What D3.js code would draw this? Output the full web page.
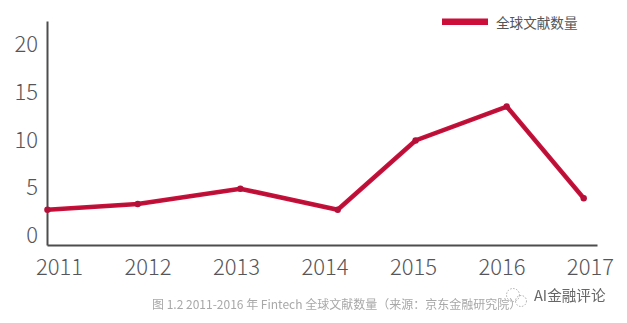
<!DOCTYPE html>
<html>
<head>
<meta charset="utf-8">
<style>
  html, body { margin: 0; background: #fff; }
  text { font-family: "Noto Sans CJK SC", "Noto Sans", sans-serif; }
  .tick text { font-size: 22px; font-weight: 300; fill: #55555a; }
</style>
<script src="https://cdn.jsdelivr.net/npm/d3@7"></script>
</head>
<body>
<div id="visualization"></div>
<script>
const categories = [2011, 2012, 2013, 2014, 2015, 2016, 2017];
// where the points really sit on the year axis, they are not centred on the labels
const pointYears = [2010.87, 2011.89, 2013.05, 2014.15, 2015.03, 2016.06, 2016.93];
const paperCounts = [2.7, 3.3, 4.9, 2.7, 9.95, 13.5, 3.9];
const yTicks = [0, 5, 10, 15, 20];
const seriesName = '全球文献数量';
const caption = '图 1.2 2011-2016 年 Fintech 全球文献数量（来源：京东金融研究院）';
const watermark = 'AI金融评论';

const w = 627;
const h = 323;
const red = '#cb0f3a';
const dark = '#4d4d4d';

const svg = d3.select('#visualization')
  .append('svg')
  .attr('width', w)
  .attr('height', h)
  .style('display', 'block');

const defs = svg.append('defs');
defs.append('filter').attr('id', 'soft')
  .append('feGaussianBlur').attr('stdDeviation', 0.5);

const xScale = d3.scaleLinear()
  .domain([2010.865, 2017.08])
  .range([47, 597]);

const yScale = d3.scaleLinear()
  .domain([-0.995, 22.46])
  .range([245, 21]);

const xAxis = d3.axisBottom(xScale)
  .tickValues(categories)
  .tickFormat(d3.format('d'))
  .tickSize(0)
  .tickPadding(14);

const yAxis = d3.axisLeft(yScale)
  .tickValues(yTicks)
  .tickSize(0)
  .tickPadding(9);

svg.append('g')
  .attr('class', 'x-axis')
  .attr('transform', 'translate(0,245)')
  .call(xAxis);

svg.append('g')
  .attr('class', 'y-axis')
  .attr('transform', 'translate(47,0)')
  .call(yAxis);

d3.selectAll('.domain')
  .attr('stroke', dark)
  .attr('stroke-width', 2);

const points = paperCounts.map((v, i) => ({ year: pointYears[i], value: v }));

const line = d3.line()
  .x(d => xScale(d.year))
  .y(d => yScale(d.value));

svg.append('path')
  .datum(points)
  .attr('fill', 'none')
  .attr('stroke', red)
  .attr('stroke-width', 4.5)
  .attr('d', line);

// darker core of the line
svg.append('path')
  .datum(points)
  .attr('fill', 'none')
  .attr('stroke', '#7d1a30')
  .attr('stroke-opacity', 0.35)
  .attr('stroke-width', 1.5)
  .attr('d', line);

svg.selectAll('.dot')
  .data(points)
  .enter()
  .append('circle')
  .attr('class', 'dot')
  .attr('cx', d => xScale(d.year))
  .attr('cy', d => yScale(d.value))
  .attr('r', 3.2)
  .attr('fill', '#b5103a');

// legend
svg.append('rect')
  .attr('x', 442)
  .attr('y', 18.5)
  .attr('width', 46)
  .attr('height', 6.5)
  .attr('fill', red);

svg.append('text')
  .attr('x', 496)
  .attr('y', 27.5)
  .attr('font-size', 13.6)
  .attr('fill', '#555')
  .text(seriesName);

// caption
svg.append('text')
  .attr('x', 152)
  .attr('y', 309)
  .attr('font-size', 12)
  .attr('fill', '#a8a8a8')
  .attr('filter', 'url(#soft)')
  .text(caption);

// watermark
svg.append('text')
  .attr('x', 534)
  .attr('y', 301)
  .attr('font-size', 14.6)
  .attr('fill', '#666')
  .attr('filter', 'url(#soft)')
  .text(watermark);

const icon = svg.append('g')
  .attr('transform', 'translate(505,288)')
  .attr('fill', 'none')
  .attr('stroke', '#999')
  .attr('stroke-width', 0.8)
  .attr('stroke-dasharray', '1.5 1.5');
icon.append('circle').attr('cx', 8).attr('cy', 7).attr('r', 6.5);
icon.append('circle').attr('cx', 16).attr('cy', 13).attr('r', 5.5);
</script>
</body>
</html>
